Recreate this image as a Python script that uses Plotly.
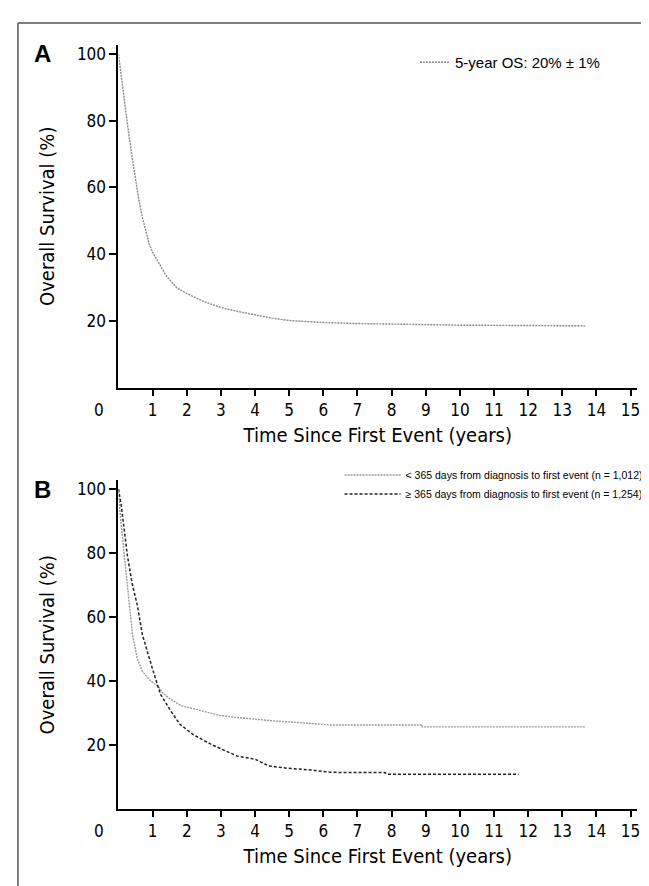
import plotly.graph_objects as go

# ---------------- data (years, % overall survival) ----------------
a_time = [0, 0.05, 0.1, 0.2, 0.3, 0.4, 0.5, 0.6, 0.7, 0.8, 0.9, 1.0, 1.2, 1.4, 1.7, 2.0,
          2.5, 3.0, 3.5, 4.0, 4.5, 5.0, 5.5, 6.0, 7.0, 8.0, 9.0, 10.0, 12.0, 13.7]
a_os = [100, 96, 91, 83, 76, 69, 62, 56, 51, 47, 43, 40.5, 37, 33.5, 30, 28.2,
        25.8, 24, 22.8, 21.8, 20.8, 20.1, 19.8, 19.5, 19.2, 19.0, 18.8, 18.7, 18.6, 18.5]
a_label = "5-year OS: 20% ± 1%"

early_time = [0, 0.05, 0.17, 0.31, 0.41, 0.55, 0.7, 0.9, 1.19, 1.28, 1.5, 1.82, 2.3, 2.95,
              3.5, 4.0, 4.6, 5.35, 6.2, 7.0, 8.0, 8.9, 8.9, 10.0, 12.0, 13.66]
early_os = [100, 92, 79.3, 63.8, 54.5, 47, 43, 40.5, 38, 36.5, 34.5, 32.4, 31, 29.3,
            28.6, 28.1, 27.5, 27.0, 26.3, 26.3, 26.3, 26.3, 25.7, 25.7, 25.7, 25.7]
early_label = "< 365 days from diagnosis to first event (n = 1,012)"

late_time = [0, 0.08, 0.26, 0.4, 0.55, 0.7, 0.99, 1.23, 1.53, 1.8, 2.2, 2.74, 3.47, 4.0,
             4.4, 4.93, 5.66, 6.2, 7.0, 7.8, 7.86, 9.0, 10.0, 11.72]
late_os = [100, 95, 79.3, 70.5, 63.8, 54.5, 44, 35.9, 30.7, 26.5, 23.2, 20.1, 16.6, 15.6,
           13.5, 12.8, 12.2, 11.5, 11.4, 11.4, 10.9, 10.9, 10.9, 10.9]
late_label = "≥ 365 days from diagnosis to first event (n = 1,254)"

x_ticks = list(range(1, 16))
y_ticks = [20, 40, 60, 80, 100]
x_title = "Time Since First Event (years)"
y_title = "Overall Survival (%)"
panel_letters = ["A", "B"]

# ---------------- figure ----------------
W, H = 649, 886
NARROW = "DejaVu Sans Condensed, Liberation Sans Narrow, sans-serif"
SANS = "Liberation Sans, Arial, sans-serif"

fig = go.Figure()
fig.add_trace(go.Scatter(x=a_time, y=a_os, mode="lines", name=a_label,
                         line=dict(color="#8a8a8a", width=1.4, dash="2px,1px"),
                         xaxis="x", yaxis="y", legend="legend"))
fig.add_trace(go.Scatter(x=early_time, y=early_os, mode="lines", name=early_label,
                         line=dict(color="#9a9a9a", width=1.4, dash="2px,1px"),
                         xaxis="x2", yaxis="y2", legend="legend2"))
fig.add_trace(go.Scatter(x=late_time, y=late_os, mode="lines", name=late_label,
                         line=dict(color="#222222", width=1.5, dash="3px,2px"),
                         xaxis="x2", yaxis="y2", legend="legend2"))

x_dom = [111 / W, 632 / W]
ya_dom = [(H - 379) / H, (H - 36) / H]
yb_dom = [(H - 801) / H, (H - 472) / H]

common_x = dict(range=[0, 15.19], tickvals=x_ticks, showline=True, linecolor="black",
                linewidth=2, ticks="outside", ticklen=6, tickwidth=1.5, tickcolor="black",
                showgrid=False, zeroline=False,
                tickfont=dict(family=NARROW, size=17, color="black"),
                title=dict(text=x_title, font=dict(family=NARROW, size=20, color="black"),
                           standoff=9))
common_y = dict(range=[0, 102.7], tickvals=y_ticks, showline=True, linecolor="black",
                linewidth=2, ticks="outside", ticklen=7, tickwidth=1.5, tickcolor="black",
                showgrid=False, zeroline=False,
                tickfont=dict(family=NARROW, size=17, color="black"),
                title=dict(text=y_title, font=dict(family=NARROW, size=20, color="black"),
                           standoff=17))

fig.update_layout(
    width=W, height=H, margin=dict(l=0, r=0, t=0, b=0),
    paper_bgcolor="white", plot_bgcolor="white",
    xaxis=dict(domain=x_dom, anchor="y", **common_x),
    yaxis=dict(domain=ya_dom, anchor="x", **common_y),
    xaxis2=dict(domain=x_dom, anchor="y2", **common_x),
    yaxis2=dict(domain=yb_dom, anchor="x2", **common_y),
    legend=dict(x=0.63, y=(H - 37) / H, xanchor="left", yanchor="top",
                bgcolor="rgba(0,0,0,0)", itemwidth=30,
                font=dict(family=SANS, size=15, color="black"), tracegroupgap=0),
    legend2=dict(x=0.99, y=(H - 452) / H, xanchor="right", yanchor="top",
                 bgcolor="rgba(0,0,0,0)", itemwidth=56,
                 font=dict(family=SANS, size=10.5, color="black"), tracegroupgap=0),
    showlegend=True,
)

# frame lines around the figure
fig.add_shape(type="line", xref="paper", yref="paper", x0=10 / W, x1=1, y0=(H - 14) / H,
              y1=(H - 14) / H, line=dict(color="#555", width=1.5))
fig.add_shape(type="line", xref="paper", yref="paper", x0=10 / W, x1=10 / W, y0=0,
              y1=(H - 14) / H, line=dict(color="#555", width=1.5))

# "0" origin label and panel letters
for xr, yr, letter in [("x", "y", panel_letters[0]), ("x2", "y2", panel_letters[1])]:
    fig.add_annotation(x=0, y=0, xref=xr, yref=yr, text="0", showarrow=False,
                       xshift=-19, yshift=-10, yanchor="top",
                       font=dict(family=NARROW, size=17, color="black"))
    fig.add_annotation(x=0, y=100, xref=xr, yref=yr, text="<b>" + letter + "</b>",
                       showarrow=False, xshift=-76, xanchor="center",
                       font=dict(family=SANS, size=24, color="black"))

fig.write_html("out.html")
